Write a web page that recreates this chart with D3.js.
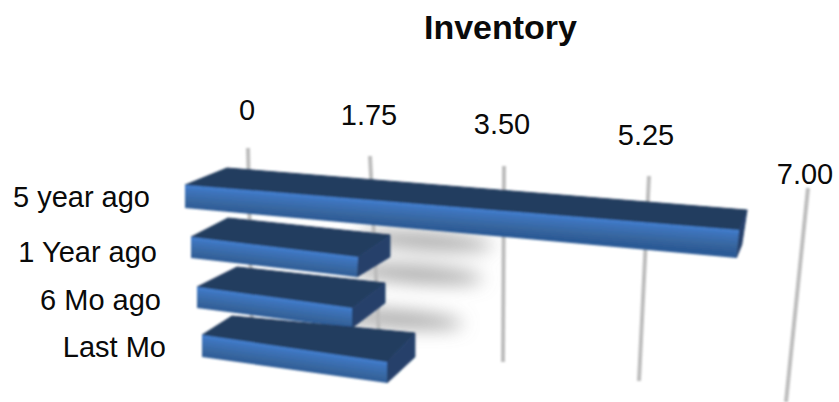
<!DOCTYPE html>
<html><head><meta charset="utf-8">
<script src="https://cdn.jsdelivr.net/npm/d3@7/dist/d3.min.js"></script>
<style>html,body{margin:0;background:#fff}svg{display:block}text{font-family:"Liberation Sans",Arial,sans-serif;fill:#0a0a0a}</style>
</head><body><div id="c"></div>
<script>
const title = "Inventory";
const categories = ["5 year ago", "1 Year ago", "6 Mo ago", "Last Mo"];
const values = [6.4, 1.9, 1.85, 2.2];
const tickValues = [0, 1.75, 3.5, 5.25, 7];
const tickLabels = ["0", "1.75", "3.50", "5.25", "7.00"];

// perspective layout: pixel position of each bar edge at value 0 and at value 7
const edgeRows = [
  {bt:[[227,168],[795.8,214]], ft:[[185,185],[791,234.2]], fb:[[185,208],[788,262.7]], bb:[[227,190],[790,250]]},
  {bt:[[228,218],[824.7,280.6]], ft:[[191,237],[806.3,310.7]], fb:[[191,258],[802,328]], bb:[[228,239],[824.7,305]]},
  {bt:[[237,267],[797,327.5]], ft:[[197,287],[783.5,366.5]], fb:[[197,308],[783.5,383.7]], bb:[[237,288],[797,344.8]]},
  {bt:[[232,316],[814,370]], ft:[[202,335],[790.6,421]], fb:[[202,357],[790.6,439.7]], bb:[[232,338],[814,398.5]]}
];
const labelRight = [150, 157, 161, 166];
const labelY = [197, 252, 300, 347];
const shadowCx = [425, 415, 395];
const shadowCy = [241, 274, 319];
const gridTopX = d3.scaleLinear().domain(tickValues).range([248, 370, 504, 649, 808]);
const gridTopY = d3.scaleLinear().domain(tickValues).range([148, 156, 166, 176, 188]);
const gridBotX = d3.scaleLinear().domain(tickValues).range([252, 379, 503, 639, 786]);
const gridBotY = d3.scaleLinear().domain(tickValues).range([330, 336, 362, 381, 402]);
const tickX = d3.scaleLinear().domain(tickValues).range([247, 369, 502, 646, 805]);
const tickY = d3.scaleLinear().domain(tickValues).range([110, 115, 124, 135, 174]);

const svg = d3.select("#c").append("svg").attr("width", 839).attr("height", 402);
const defs = svg.append("defs");
defs.append("filter").attr("id", "soft").append("feGaussianBlur").attr("stdDeviation", 0.8);
defs.append("filter").attr("id", "shadow").attr("x", "-50%").attr("y", "-200%").attr("width", "200%").attr("height", "500%")
  .append("feGaussianBlur").attr("stdDeviation", 9);

svg.append("text").attr("x", 500.5).attr("y", 39).attr("text-anchor", "middle")
  .attr("font-size", 34).attr("font-weight", "bold").text(title);

// soft floor shadows, under the gridlines and bars
const line = d3.line();
const shadowG = svg.append("g").attr("filter", "url(#shadow)");
shadowCx.forEach((cx, i) => {
  shadowG.append("ellipse").attr("cx", cx).attr("cy", shadowCy[i])
    .attr("rx", 68).attr("ry", 8).attr("fill", "#8a8a8a").attr("opacity", 0.8)
    .attr("transform", `rotate(4 ${cx} ${shadowCy[i]})`);
});

// gridlines
svg.append("g").attr("filter", "url(#soft)").selectAll("line").data(tickValues).join("line")
  .attr("x1", gridTopX).attr("y1", gridTopY).attr("x2", gridBotX).attr("y2", gridBotY)
  .attr("stroke", "#bdbdbd").attr("stroke-width", 4);

svg.append("g").selectAll("text").data(tickValues).join("text")
  .attr("x", tickX).attr("y", tickY).attr("dy", "0.35em").attr("text-anchor", "middle")
  .attr("font-size", 29).text((d, i) => tickLabels[i]);

svg.append("g").selectAll("text").data(categories).join("text")
  .attr("x", (d, i) => labelRight[i]).attr("y", (d, i) => labelY[i]).attr("dy", "0.35em")
  .attr("text-anchor", "end").attr("font-size", 29).text(d => d);

// edge scale: value -> [x,y] along a given bar edge
const edge = e => {
  const sx = d3.scaleLinear().domain([0, 7]).range([e[0][0], e[1][0]]);
  const sy = d3.scaleLinear().domain([0, 7]).range([e[0][1], e[1][1]]);
  return v => [sx(v), sy(v)];
};

const barsG = svg.append("g").attr("filter", "url(#soft)");
values.forEach((v, i) => {
  const r = edgeRows[i];
  const bt = edge(r.bt), ft = edge(r.ft), fb = edge(r.fb), bb = edge(r.bb);
  const a = ft(0), b = ft(v), c = fb(0);
  const dx = b[0] - a[0], dy = b[1] - a[1], len = Math.hypot(dx, dy);
  const nx = -dy / len, ny = dx / len;
  const t = (c[0] - a[0]) * nx + (c[1] - a[1]) * ny;
  const id = "front" + i;
  const g = defs.append("linearGradient").attr("id", id).attr("gradientUnits", "userSpaceOnUse")
    .attr("x1", a[0]).attr("y1", a[1]).attr("x2", a[0] + nx * t).attr("y2", a[1] + ny * t);
  [[0, "#4380d2"], [0.2, "#3d74bd"], [0.7, "#37669f"], [1, "#2c5a96"]]
    .forEach(s => g.append("stop").attr("offset", s[0]).attr("stop-color", s[1]));
  const bar = barsG.append("g");
  bar.append("path").attr("d", line([bt(0), bt(v), ft(v), ft(0)]) + "Z").attr("fill", "#243c5e")
    .attr("stroke", "#243c5e").attr("stroke-width", 1).attr("stroke-linejoin", "round");
  bar.append("path").attr("d", line([ft(v), bt(v), bb(v), fb(v)]) + "Z").attr("fill", "#25406a")
    .attr("stroke", "#25406a").attr("stroke-width", 1).attr("stroke-linejoin", "round");
  bar.append("path").attr("d", line([ft(0), ft(v), fb(v), fb(0)]) + "Z").attr("fill", `url(#${id})`);
});
</script></body></html>
